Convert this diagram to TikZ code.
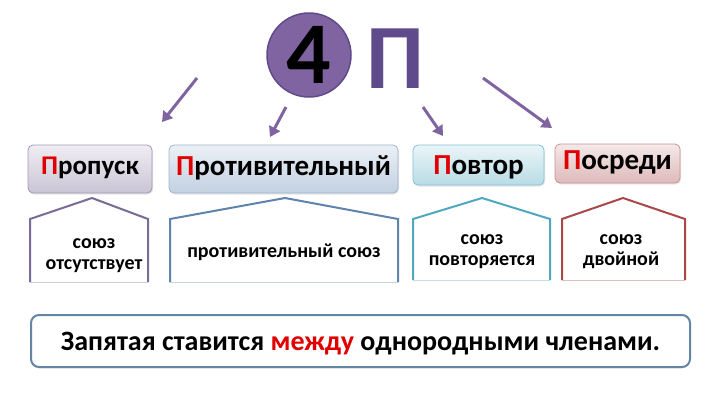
\documentclass[tikz,border=0pt]{standalone}
\usepackage{fontspec}
\setmainfont{Carlito}
\usepackage{xcolor}
\usetikzlibrary{positioning,arrows.meta,shadows}
\definecolor{pred}{HTML}{E00000}
\definecolor{pviolet}{HTML}{8064A2}
\definecolor{pdark}{HTML}{5F4B8B}
\definecolor{hviolet}{HTML}{7A6C96}
\definecolor{hblue}{HTML}{5E84AE}
\definecolor{hteal}{HTML}{4FA8C0}
\definecolor{hred}{HTML}{A8484A}
\definecolor{framec}{HTML}{6585A5}
\def\HdrFont{\fontsize{29}{29}\selectfont\bfseries}
\def\TxtFont{\fontsize{20}{21}\selectfont\bfseries}
\def\Eave{219}
\def\Peak{198}

\begin{document}
\begin{tikzpicture}[x=1pt,y=-1pt,
    hdr/.style={draw, rounded corners=5pt, line width=0.8pt, inner sep=0pt,
      text height=18.5pt, text depth=6pt,
      font=\HdrFont, drop shadow={opacity=0.2, shadow xshift=1pt, shadow yshift=-1.5pt}},
    housetxt/.style={align=center, font=\TxtFont, inner sep=0pt},
    ptr/.style={draw=pviolet, line width=3pt, -{Triangle[width=12pt,length=10pt]}}]
  \useasboundingbox (0,0) rectangle (720,405);
  % title
  \node[circle, fill=pviolet, draw=pdark, line width=1.5pt, minimum size=84pt,
    inner sep=0pt, font=\fontsize{88}{88}\selectfont\bfseries] (four) at (309,55) {4};
  \node[font=\fontsize{92}{92}\selectfont\bfseries, text=pdark, inner sep=0pt] (pe) at (395,59) {П};
  % headers
  \node[hdr, draw=hviolet!70, top color=hviolet!12, bottom color=hviolet!40,
    font=\fontsize{27}{27}\selectfont\bfseries, text height=17.5pt,
    minimum width=124pt, minimum height=48pt] (p1) at (90,169) {\textcolor{pred}{П}ропуск};
  \node[hdr, draw=hblue!60, top color=hblue!12, bottom color=hblue!38,
    minimum width=229pt, minimum height=48pt] (p2) at (283.5,169) {\textcolor{pred}{П}ротивительный};
  \node[hdr, draw=hteal!70, top color=hteal!12, bottom color=hteal!40, text depth=0pt,
    minimum width=131pt, minimum height=40pt] (p3) at (478.5,165) {\textcolor{pred}{П}овтор};
  \node[hdr, draw=hred!60, top color=hred!12, bottom color=hred!38,
    minimum width=125pt, minimum height=39pt] (p4) at (617.5,163.5) {\textcolor{pred}{П}осреди};
  % arrows
  \coordinate (a1) at (197,78);  \coordinate (b1) at (162,122);
  \coordinate (a2) at (286,107); \coordinate (b2) at (270,137);
  \coordinate (a3) at (423,107); \coordinate (b3) at (443,136);
  \coordinate (a4) at (483,78);  \coordinate (b4) at (552,128);
  \draw[ptr] (a1) -- (b1);
  \draw[ptr] (a2) -- (b2);
  \draw[ptr] (a3) -- (b3);
  \draw[ptr] (a4) -- (b4);
  % houses
  \foreach \l/\r/\p/\b/\c in {30/148/92/282/hviolet, 170/398/285/282/hblue,
      413/550/482/280/hteal, 562/685/623/280/hred}{
    \fill[white] (\l,\Eave) -- (\p,\Peak) -- (\r,\Eave) -- (\r,\b) -- (\l,\b) -- cycle;
    \draw[\c!35, line width=1pt] (\l,\b) -- (\r,\b);
    \draw[\c, line width=2pt] (\l,\b) -- (\l,\Eave) -- (\p,\Peak) -- (\r,\Eave) -- (\r,\b);
  }
  \node[housetxt] (h1) at (94,256) {союз\\отсутствует};
  \node[housetxt] (h2) at (284,252) {противительный союз};
  \node[housetxt] (h3) at (482,252) {союз\\повторяется};
  \node[housetxt] (h4) at (621,252) {союз\\двойной};
  % rule
  \node[draw=framec, line width=2pt, rounded corners=8pt, fill=white,
    minimum width=659pt, minimum height=52pt, inner sep=0pt,
    text height=18pt, text depth=0pt,
    font=\fontsize{28}{28}\selectfont\bfseries,
    drop shadow={opacity=0.15, shadow xshift=0pt, shadow yshift=-1.5pt}] (rule) at (360.5,341)
    {Запятая ставится \textcolor{pred}{между} однородными членами.};
\end{tikzpicture}
\end{document}
